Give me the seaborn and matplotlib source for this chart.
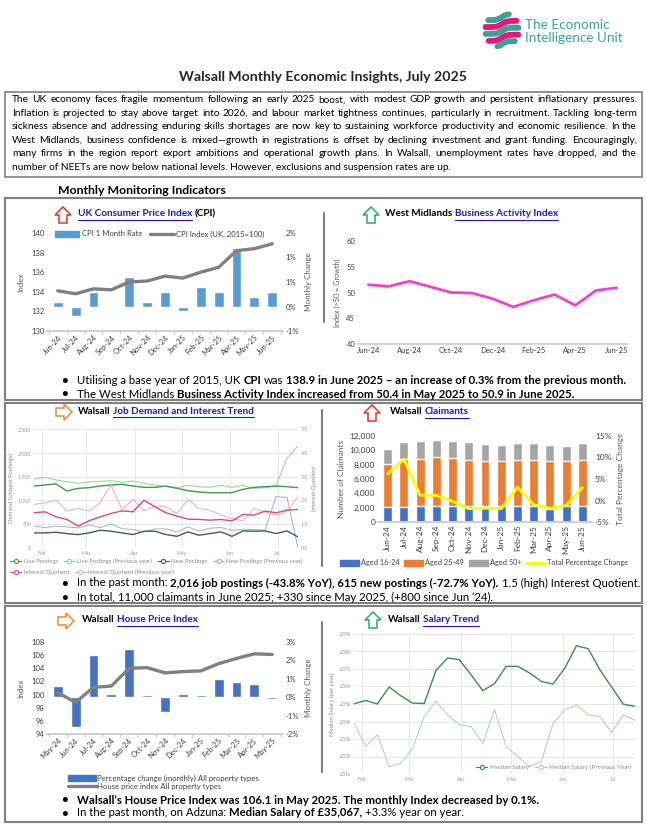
import numpy as np
import pandas as pd
import matplotlib.pyplot as plt
import seaborn as sns
from matplotlib.patches import Rectangle, Polygon, Patch
from matplotlib.lines import Line2D
from matplotlib.ticker import FuncFormatter

# ---- data ----
cpi_months = ['Jun-24', 'Jul-24', 'Aug-24', 'Sep-24', 'Oct-24', 'Nov-24', 'Dec-24',
              'Jan-25', 'Feb-25', 'Mar-25', 'Apr-25', 'May-25', 'Jun-25']
cpi_rate = [0.1, -0.2, 0.3, 0.0, 0.6, 0.1, 0.3, -0.1, 0.4, 0.3, 1.2, 0.2, 0.3]
cpi_index = [134.1, 133.8, 134.3, 134.2, 135.0, 135.1, 135.6, 135.4, 136.0, 136.5, 138.2, 138.4, 138.9]

bai = [51.5, 51.2, 52.2, 51.1, 50.0, 49.9, 48.8, 47.2, 48.5, 49.6, 47.5, 50.4, 50.9]
bai_ticks = ['Jun-24', 'Aug-24', 'Oct-24', 'Dec-24', 'Feb-25', 'Apr-25', 'Jun-25']

weeks = pd.date_range('2025-01-27', periods=25, freq='7D')
month_starts = pd.to_datetime(['2025-02-01', '2025-03-01', '2025-04-01', '2025-05-01', '2025-06-01', '2025-07-01'])
month_names = ['Feb', 'Mar', 'Apr', 'May', 'Jun', 'Jul']
live = [1302, 1323, 1345, 1197, 1253, 1267, 1302, 1323, 1338, 1302, 1274, 1274, 1302,
        1253, 1204, 1176, 1162, 1162, 1162, 1232, 1274, 1288, 1302, 1288, 1267]
live_prev = [1443, 1485, 1429, 1394, 1359, 1387, 1401, 1415, 1380, 1408, 1359, 1323, 1288,
             1267, 1317, 1288, 1274, 1317, 1274, 1317, 1253, 1267, 1302, 1887, 2147]
new_post = [317, 317, 331, 303, 282, 317, 373, 352, 317, 282, 352, 352, 282,
            246, 338, 268, 303, 338, 246, 359, 352, 359, 303, 359, 232]
new_prev = [458, 430, 458, 444, 422, 486, 430, 500, 408, 387, 338, 401, 401,
            338, 444, 352, 415, 430, 373, 394, 387, 373, 1077, 1063, 0]
iq = [1.48, 1.52, 1.31, 1.2, 0.92, 1.14, 1.31, 1.45, 1.56, 1.52, 2.01, 1.73, 1.48,
      1.34, 1.21, 1.2, 1.17, 1.2, 1.14, 1.41, 1.38, 1.55, 1.48, 1.59, 1.62]
iq_prev = [1.83, 1.9, 2.01, 1.55, 1.66, 1.55, 1.9, 2.65, 1.62, 2.05, 1.55, 1.76, 1.73,
           1.45, 2.04, 1.66, 1.59, 1.38, 1.24, 1.14, 1.66, 1.5, 1.38, 1.55, 2.15]

cl_16_24 = [2030, 2030, 2170, 2260, 2300, 2260, 2260, 2170, 2170, 2260, 1800, 2170, 2170]
cl_25_49 = [6045, 6820, 6690, 6740, 6650, 6460, 6320, 6280, 6550, 6370, 6740, 6280, 6460]
cl_50 = [2075, 2320, 2400, 2400, 2400, 2400, 2310, 2250, 2310, 2350, 2210, 2210, 2350]
cl_pct = [6.2, 9.6, 1.2, 1.2, -0.2, -1.9, -1.8, -1.9, 3.1, -1.0, -1.8, -1.2, 3.0]

hpi_months = ['May-24', 'Jun-24', 'Jul-24', 'Aug-24', 'Sep-24', 'Oct-24', 'Nov-24',
              'Dec-24', 'Jan-25', 'Feb-25', 'Mar-25', 'Apr-25', 'May-25']
hpi_change = [0.6, -1.6, 2.3, 0.2, 2.6, 0.1, -0.8, 0.2, 0.1, 1.0, 0.8, 0.7, -0.1]
hpi_index = [100.3, 98.8, 101.1, 101.3, 104.0, 104.1, 103.3, 103.5, 103.6, 104.7, 105.5, 106.2, 106.1]

salary = [35010, 35200, 35000, 35970, 35470, 35050, 35030, 36920, 37630, 37530, 36670, 35760, 36160,
          37150, 37150, 36770, 36290, 36140, 37050, 38330, 38160, 36960, 35970, 34990, 34860]
salary_prev = [33900, 32570, 33240, 31420, 31610, 32470, 34290, 35150, 34380, 33810, 33710, 32760, 34670,
               32570, 32000, 31420, 31710, 33900, 34670, 34950, 34380, 34290, 33370, 34380, 34060]

intro = [
    "The UK economy faces fragile momentum following an early 2025 boost, with modest GDP growth and persistent inflationary pressures.",
    "Inflation is projected to stay above target into 2026, and labour market tightness continues, particularly in recruitment. Tackling long-term",
    "sickness absence and addressing enduring skills shortages are now key to sustaining workforce productivity and economic resilience. In the",
    "West Midlands, business confidence is mixed\u2014growth in registrations is offset by declining investment and grant funding. Encouragingly,",
    "many firms in the region report export ambitions and operational growth plans. In Walsall, unemployment rates have dropped, and the",
    "number of NEETs are now below national levels. However, exclusions and suspension rates are up.",
]

# ---- page setup ----
sns.set_theme(style='white')
plt.rcParams['font.family'] = ['Lato', 'DejaVu Sans']

W, H = 647, 825
fig = plt.figure(figsize=(W / 100, H / 100), dpi=100)
fig.patch.set_facecolor('white')
rend = fig.canvas.get_renderer()

LINK = '#1a1ad6'
GREY = '#595959'
FRAME = '#7f7f7f'


def fx(x):
    return x / W


def fy(y):
    return 1 - y / H


def add_ax(x0, y0, x1, y1):
    return fig.add_axes([x0 / W, 1 - y1 / H, (x1 - x0) / W, (y1 - y0) / H])


def put(x, y, s, size, bold=False, color='black', **kw):
    return fig.text(fx(x), fy(y), s, fontsize=size, fontweight='bold' if bold else 'normal',
                    color=color, va='center', ha='left', **kw)


def text_w(t):
    return t.get_window_extent(renderer=rend).width


_sp = {}


def space_w(size, bold):
    if (size, bold) not in _sp:
        a = put(0, 0, 'x x', size, bold)
        b = put(0, 0, 'xx', size, bold)
        _sp[(size, bold)] = text_w(a) - text_w(b)
        a.remove()
        b.remove()
    return _sp[(size, bold)]


def rich(x, y, parts, size):
    arts = []
    for s, style in parts:
        bold = style != 'n'
        color = LINK if style == 'link' else 'black'
        if s.startswith(' '):
            x += space_w(size, bold)
        t = put(x, y, s.strip(), size, bold, color)
        w = text_w(t)
        arts.append(t)
        if style == 'link':
            ln = Line2D([fx(x), fx(x + w)], [fy(y + size * 0.8)] * 2, transform=fig.transFigure,
                        color=LINK, lw=0.8)
            fig.add_artist(ln)
            arts.append(ln)
        x += w
        if s.endswith(' '):
            x += space_w(size, bold)
    return x, arts


def fit_size(parts, target):
    end, arts = rich(0, 0, parts, 10)
    for a in arts:
        a.remove()
    return 10 * target / end


def justify(x0, x1, y, line, size):
    words = line.split(' ')
    ts = [put(0, y, w, size) for w in words]
    ws = [text_w(t) for t in ts]
    gap = (x1 - x0 - sum(ws)) / (len(words) - 1)
    x = x0
    for t, w in zip(ts, ws):
        t.set_x(fx(x))
        x += w + gap


def arrow_icon(cx, cy, direction, color, s=8):
    pts = [(0, -s), (s, 0), (s / 2, 0), (s / 2, s), (-s / 2, s), (-s / 2, 0), (-s, 0)]
    if direction == 'right':
        pts = [(-py, px) for px, py in pts]
    pts = [(fx(cx + px), fy(cy + py)) for px, py in pts]
    fig.add_artist(Polygon(pts, closed=True, transform=fig.transFigure,
                           facecolor='white', edgecolor=color, lw=1.1))


def box(x0, y0, x1, y1, lw=1.5):
    fig.add_artist(Rectangle((fx(x0), fy(y1)), (x1 - x0) / W, (y1 - y0) / H,
                             transform=fig.transFigure, fill=False, ec=FRAME, lw=lw))


def vline(x, y0, y1):
    fig.add_artist(Line2D([fx(x)] * 2, [fy(y0), fy(y1)], transform=fig.transFigure,
                          color=FRAME, lw=1.5))


def excel_axes(ax, size=5.5):
    for s in ['top', 'left', 'right']:
        ax.spines[s].set_visible(False)
    ax.spines['bottom'].set_color('#d0d0d0')
    ax.tick_params(length=0, labelsize=size, colors='#404040', pad=2)
    ax.grid(False)
    ax.set_facecolor('none')
    ax.set_xlabel('')


def web_axes(ax, size=3.8):
    for s in ax.spines.values():
        s.set_visible(False)
    ax.tick_params(length=0, labelsize=size, colors='#9a9a9a', pad=2)
    ax.set_facecolor('none')
    ax.set_xlabel('')


def combo_axes(box_px, months, change, index, bar_col, ch_lim, ch_ticks, ch_labels, ix_lim, ix_ticks):
    # bars (monthly change, right scale) under the index line (left scale)
    ax_b = add_ax(*box_px)
    sns.barplot(x=months, y=change, color=bar_col, saturation=1, width=0.55, ax=ax_b)
    ax_l = ax_b.twinx()
    sns.lineplot(x=np.arange(len(months)), y=index, color='#808080', lw=2.4, ax=ax_l)
    ax_b.yaxis.tick_right()
    ax_b.yaxis.set_label_position('right')
    ax_l.yaxis.tick_left()
    ax_l.yaxis.set_label_position('left')
    ax_b.set_ylim(*ch_lim)
    ax_b.set_yticks(ch_ticks)
    ax_b.set_yticklabels(ch_labels)
    ax_b.set_ylabel('Monthly Change', fontsize=5.8, color=GREY, labelpad=4)
    ax_l.set_ylim(*ix_lim)
    ax_l.set_yticks(ix_ticks)
    ax_l.set_ylabel('Index', fontsize=5.8, color=GREY, labelpad=5)
    excel_axes(ax_b)
    excel_axes(ax_l)
    ax_b.set_xlim(-0.6, len(months) - 0.4)
    ax_b.set_xticks(np.arange(len(months)))
    ax_b.set_xticklabels(months, rotation=45, ha='right', rotation_mode='anchor')
    ax_b.set_xticks(np.arange(-0.5, len(months), 1), minor=True)
    ax_b.tick_params(axis='x', which='minor', length=2.5, color='#d0d0d0', bottom=True)
    return ax_b, ax_l


# ---- logo ----
lg = add_ax(482, 11, 522, 49)
lg.set_xlim(-1.1, 1.1)
lg.set_ylim(-1.1, 1.1)
lg.set_aspect('equal')
lg.axis('off')
xs = np.linspace(-1, 1, 80)
for c0, col in [(0.75, '#3aa394'), (0.35, '#e5177d'), (-0.05, '#3aa394'), (-0.45, '#e5177d'), (-0.82, '#3aa394')]:
    ys = c0 + 0.18 * np.tanh(3.5 * xs)
    ok = xs ** 2 + ys ** 2 < 1.0
    lg.plot(xs[ok], ys[ok], color=col, lw=4.2, solid_capstyle='round')
fs_logo = fit_size([('Intelligence Unit', 'n')], 97)
put(525, 25, 'The Economic', fs_logo, color='#3aa394')
put(525, 38, 'Intelligence Unit', fs_logo, color='#3aa394')

# ---- title and intro ----
fs_title = fit_size([('Walsall Monthly Economic Insights, July 2025', 'b')], 289)
fig.text(fx(323), fy(77), 'Walsall Monthly Economic Insights, July 2025', fontsize=fs_title,
         fontweight='bold', ha='center', va='center')
box(5, 92, 642, 177, lw=1.2)
fs_par = fit_size([(intro[-1], 'n')], 438)
for i, line in enumerate(intro):
    y = 100 + i * 13.4
    if i < len(intro) - 1:
        justify(12, 637, y, line, fs_par)
    else:
        put(12, y, line, fs_par)

fs_mmi = fit_size([('Monthly Monitoring Indicators', 'b')], 168)
put(58, 190, 'Monthly Monitoring Indicators', fs_mmi, bold=True)

# ---- section frames ----
box(5, 198, 642, 400)
box(5, 403, 642, 603)
box(5, 606, 642, 822)
vline(324, 213, 322)
vline(322, 410, 566)
vline(322, 622, 772)

TS = 7.2
arrow_icon(63, 215, 'up', '#e03030')
rich(78, 214, [('UK Consumer Price Index', 'link'), (' (CPI)', 'b')], TS)
arrow_icon(371, 215, 'up', '#2eaa6a')
rich(385, 214, [('West Midlands ', 'b'), ('Business Activity Index', 'link')], TS)
arrow_icon(64, 412, 'right', '#e8893a')
rich(78, 411, [('Walsall ', 'b'), ('Job Demand and Interest Trend', 'link')], TS)
arrow_icon(372, 413, 'up', '#e03030')
rich(390, 412, [('Walsall ', 'b'), ('Claimants', 'link')], TS)
arrow_icon(66, 621, 'right', '#e8893a')
rich(82, 620, [('Walsall ', 'b'), ('House Price Index', 'link')], TS)
arrow_icon(373, 620, 'up', '#2eaa6a')
rich(388, 620, [('Walsall ', 'b'), ('Salary Trend', 'link')], TS)

# ---- CPI ----
pos = np.arange(len(cpi_months))
combo_axes((47, 233, 283, 331), cpi_months, cpi_rate, cpi_index, '#5B9BD5',
           (-0.5, 1.5), [-0.5, 0, 0.5, 1.0, 1.5], ['-1%', '0%', '1%', '1%', '2%'],
           (130, 140), range(130, 141, 2))
fig.legend(handles=[Patch(color='#5B9BD5', label='CPI 1 Month Rate'),
                    Line2D([], [], color='#808080', lw=2.4, label='CPI Index (UK, 2015=100)')],
           loc='center left', bbox_to_anchor=(fx(48), fy(234)), ncol=2, frameon=False,
           fontsize=5.5, handlelength=3.2, handleheight=0.9, columnspacing=1.0, handletextpad=0.3,
           labelcolor='#404040')

# ---- Business Activity Index ----
ax = add_ax(358, 241, 627, 344)
sns.lineplot(x=pos, y=bai, color='#EE44CC', lw=2.0, ax=ax)
ax.set_xlim(-0.5, 12.5)
ax.set_ylim(40, 60)
ax.set_yticks(range(40, 61, 5))
ax.set_xticks(pos[::2])
ax.set_xticklabels(bai_ticks)
ax.set_ylabel('Index (>50 = Growth)', fontsize=5.2, color=GREY, labelpad=4)
excel_axes(ax)

# ---- bullets ----
b1 = [('Utilising a base year of 2015, UK ', 'n'), ('CPI', 'b'), (' was ', 'n'),
      ('138.9 in June 2025 \u2013 an increase of 0.3% from the previous month.', 'b')]
fs_b = fit_size(b1, 548)
bullets = [
    (380, b1),
    (394, [('The West Midlands ', 'n'),
           ('Business Activity Index increased from 50.4 in May 2025 to 50.9 in June 2025.', 'b')]),
    (583, [('In the past month: ', 'n'), ('2,016 job postings (-43.8% YoY), 615 new postings (-72.7% YoY).', 'b'),
           (' 1.5 (high) Interest Quotient.', 'n')]),
    (597, [('In total, 11,000 claimants in June 2025; +330 since May 2025, (+800 since Jun \u201824).', 'n')]),
    (800, [('Walsall\u2019s House Price Index was 106.1 in May 2025. The monthly Index decreased by 0.1%.', 'b')]),
    (813, [('In the past month, on Adzuna: ', 'n'), ('Median Salary of \u00a335,067,', 'b'),
           (' +3.3% year on year.', 'n')]),
]
for by, parts in bullets:
    put(61, by, '\u2022', fs_b, bold=True)
    rich(77, by, parts, fs_b)

# ---- Job demand ----
ax = add_ax(34, 429, 298, 548)
sns.lineplot(x=weeks, y=live_prev, color='#93d093', lw=0.7, ax=ax)
sns.lineplot(x=weeks, y=new_prev, color='#9fb1c8', lw=0.7, ax=ax)
sns.lineplot(x=weeks, y=live, color='#3f9a4a', lw=1.0, ax=ax)
sns.lineplot(x=weeks, y=new_post, color='#3e5a78', lw=1.0, ax=ax)
ax.set_ylim(0, 2500)
ax.set_yticks(range(0, 2501, 500))
ax.yaxis.set_major_formatter(FuncFormatter(lambda v, p: f'{v:,.0f}'))
ax.set_xlim(weeks[0], weeks[-1])
ax.set_xticks(month_starts)
ax.set_xticklabels(month_names)
ax.grid(True, color='#e3e3e3', lw=0.6)
ax.set_ylabel('Demand (Unique Postings)', fontsize=4.3, color='#8a8a8a', labelpad=3)
web_axes(ax)
ax2 = ax.twinx()
sns.lineplot(x=weeks, y=iq_prev, color='#f2a6bd', lw=0.7, ax=ax2)
sns.lineplot(x=weeks, y=iq, color='#dc4a74', lw=1.0, ax=ax2)
ax2.set_ylim(0, 5)
ax2.set_yticks(np.arange(0, 5.01, 1))
ax2.yaxis.set_major_formatter(FuncFormatter(lambda v, p: f'{v:.1f}'))
ax2.set_ylabel('Interest Quotient', fontsize=4.3, color='#8a8a8a', labelpad=3)
ax2.grid(False)
web_axes(ax2)


def mk(col, lab):
    return Line2D([], [], color=col, lw=0.8, marker='o', ms=3, mfc='white', mec=col, mew=0.8, label=lab)


fig.legend(handles=[mk('#3f9a4a', 'Live Postings'), mk('#93d093', 'Live Postings (Previous year)'),
                    mk('#3e5a78', 'New Postings'), mk('#9fb1c8', 'New Postings (Previous year)')],
           loc='center left', bbox_to_anchor=(fx(5), fy(561)), ncol=4, frameon=False, fontsize=4.3,
           handlelength=1.8, columnspacing=1.0, handletextpad=0.4, labelcolor='#8a8a8a')
fig.legend(handles=[mk('#dc4a74', 'Interest Quotient'), mk('#f2a6bd', 'Interest Quotient (Previous year)')],
           loc='center left', bbox_to_anchor=(fx(5), fy(572)), ncol=2, frameon=False, fontsize=4.3,
           handlelength=1.8, columnspacing=1.0, handletextpad=0.4, labelcolor='#8a8a8a')

# ---- Claimants ----
cl_df = pd.DataFrame({'month': cpi_months, 'young': cl_16_24, 'mid': cl_25_49, 'old': cl_50})
cl_df['to_mid'] = cl_df['young'] + cl_df['mid']
cl_df['total'] = cl_df['to_mid'] + cl_df['old']
ax = add_ax(378, 436, 592, 522)
sns.barplot(data=cl_df, x='month', y='total', color='#A5A5A5', saturation=1, width=0.55, ax=ax)
sns.barplot(data=cl_df, x='month', y='to_mid', color='#ED7D31', saturation=1, width=0.55, ax=ax)
sns.barplot(data=cl_df, x='month', y='young', color='#4472C4', saturation=1, width=0.55, ax=ax)
ax2 = ax.twinx()
sns.lineplot(x=pos, y=cl_pct, color='#FFFF00', lw=2.0, ax=ax2)
ax.set_ylim(0, 12000)
ax.set_yticks(range(0, 12001, 2000))
ax.yaxis.set_major_formatter(FuncFormatter(lambda v, p: f'{v:,.0f}'))
ax.set_ylabel('Number of Claimants', fontsize=6, color=GREY, labelpad=3)
excel_axes(ax, 6)
ax2.set_ylim(-5, 15)
ax2.set_yticks(range(-5, 16, 5))
ax2.set_yticklabels([f'{v}%' for v in range(-5, 16, 5)])
ax2.set_ylabel('Total Percentage Change', fontsize=6, color=GREY, labelpad=4)
excel_axes(ax2, 6)
ax.set_xlim(-0.6, 12.6)
ax.set_xticks(pos)
ax.set_xticklabels(cpi_months, rotation=90)
fig.legend(handles=[Patch(color='#4472C4', label='Aged 16-24'), Patch(color='#ED7D31', label='Aged 25-49'),
                    Patch(color='#A5A5A5', label='Aged 50+'),
                    Line2D([], [], color='#FFFF00', lw=2.0, label='Total Percentage Change')],
           loc='center', bbox_to_anchor=(fx(484), fy(563)), ncol=4, frameon=False, fontsize=5.3,
           handlelength=2.6, handleheight=0.9, columnspacing=0.6, handletextpad=0.3, labelcolor='#404040')

# ---- House price index ----
combo_axes((47, 642, 283, 734), hpi_months, hpi_change, hpi_index, '#4472C4',
           (-2, 3), range(-2, 4), [f'{v}%' for v in range(-2, 4)],
           (94, 108), range(94, 109, 2))
fig.legend(handles=[Patch(color='#4472C4', label='Percentage change (monthly) All property types'),
                    Line2D([], [], color='#808080', lw=2.4, label='House price index All property types')],
           loc='upper left', bbox_to_anchor=(fx(64), fy(771)), ncol=1, frameon=False, fontsize=5.6,
           handlelength=3.6, handleheight=0.8, labelspacing=0.15, handletextpad=0.2, labelcolor='#404040',
           borderpad=0)

# ---- Salary ----
ax = add_ax(354, 634, 635, 774)
sns.lineplot(x=weeks, y=salary_prev, color='#a3d6a3', lw=0.7, ax=ax)
sns.lineplot(x=weeks, y=salary, color='#3d8f46', lw=1.0, ax=ax)
ax.set_ylim(31000, 39000)
ax.set_yticks(range(31000, 39001, 1000))
ax.yaxis.set_major_formatter(FuncFormatter(lambda v, p: f'\u00a3{v / 1000:.0f}k'))
ax.set_xlim(weeks[0], weeks[-1])
ax.set_xticks(month_starts)
ax.set_xticklabels(month_names)
ax.grid(True, color='#e3e3e3', lw=0.6)
ax.set_ylabel('Median Salary (per year)', fontsize=4.3, color='#8a8a8a', labelpad=3)
web_axes(ax)
ax.legend(handles=[mk('#3d8f46', 'Median Salary'), mk('#a3d6a3', 'Median Salary (Previous Year)')],
          loc='lower right', ncol=2, frameon=False, fontsize=4.5, handlelength=1.8, columnspacing=1.0,
          handletextpad=0.4, labelcolor='#8a8a8a', borderaxespad=0.2)

fig.savefig('out.png', dpi=100)
